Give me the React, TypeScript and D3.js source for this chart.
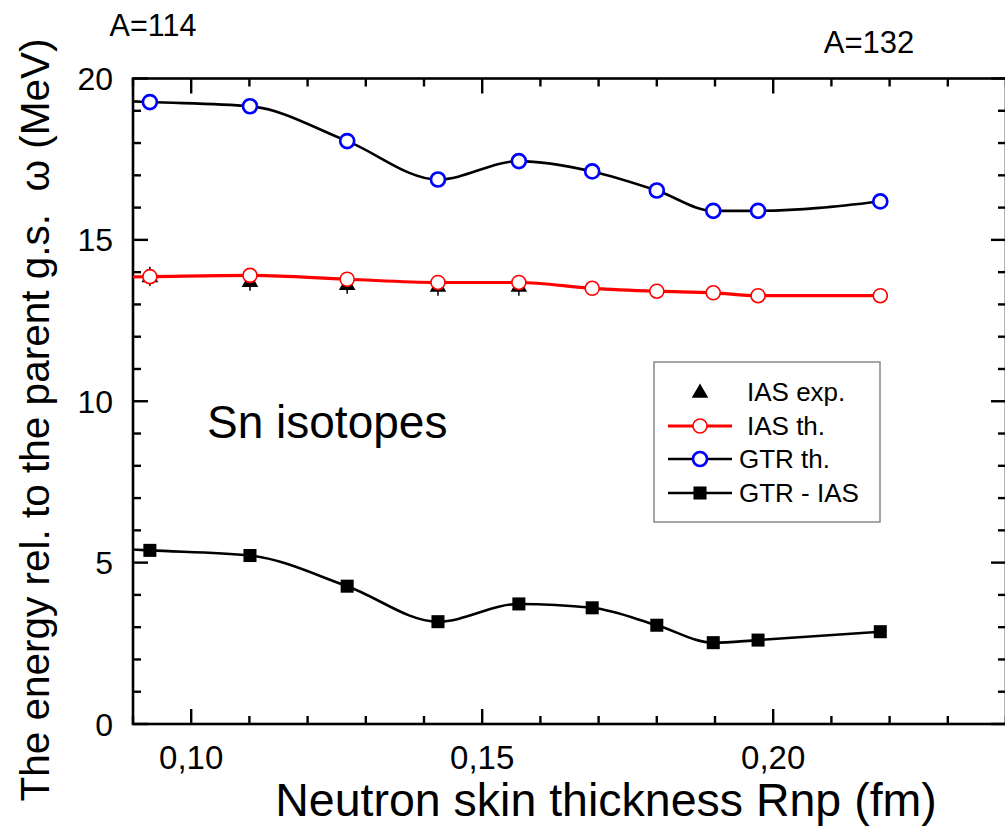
import React from "react";
import * as d3 from "d3";

// ---- data ----
const rnp = [0.0929, 0.1101, 0.1268, 0.1424, 0.1563, 0.1689, 0.18, 0.1897, 0.1974, 0.2184];
const gtrTh = [19.27, 19.14, 18.06, 16.87, 17.44, 17.12, 16.53, 15.9, 15.9, 16.19];
const iasTh = [13.86, 13.9, 13.78, 13.68, 13.68, 13.5, 13.41, 13.36, 13.27, 13.27];
const gtrMinusIas = [5.38, 5.22, 4.27, 3.17, 3.72, 3.6, 3.06, 2.52, 2.6, 2.86];
const rnpExp = [0.0929, 0.1101, 0.1268, 0.1424, 0.1563];
const iasExp = [13.87, 13.72, 13.63, 13.57, 13.57];
const iasExpErr = [0.3, 0.3, 0.3, 0.3, 0.3];
const xMajorTicks = [0.1, 0.15, 0.2];
const yMajorTicks = [0, 5, 10, 15, 20];
const legendLabels = ["IAS exp.", "IAS th.", "GTR th.", "GTR - IAS"];

const W = 1005;
const H = 830;
const M = { left: 133, right: 1006, top: 78.5, bottom: 724 };
const FONT = "'Liberation Sans', Arial, Helvetica, sans-serif";

const x = d3.scaleLinear().domain([0.09, 0.24]).range([M.left, M.right]);
const y = d3.scaleLinear().domain([0, 20]).range([M.bottom, M.top]);

function extend(xs: number[], ys: number[]): [number, number][] {
  // linear extrapolation of the first segment back to the left axis
  const t = x.domain()[0];
  const slope = (ys[1] - ys[0]) / (xs[1] - xs[0]);
  const yt = ys[0] + slope * (t - xs[0]);
  return [[t, yt], ...xs.map((v, i) => [v, ys[i]] as [number, number])];
}

const line = d3
  .line<[number, number]>()
  .x((d) => x(d[0]))
  .y((d) => y(d[1]))
  .curve(d3.curveMonotoneX);

const fmtX = (v: number) => d3.format(".2f")(v).replace(".", ",");

export default function App() {
  const xMinor = d3.range(0.09, 0.2401, 0.01);
  const yMinor = d3.range(0, 20.01, 1);
  const tri = d3.symbol().type(d3.symbolTriangle).size(120)();
  const sq = d3.symbol().type(d3.symbolSquare).size(170)();

  const legX = 654, legY = 362, legW = 226, legH = 160;
  const rowY = [392, 426, 459, 493];
  const sampleX0 = 668, sampleX1 = 732, sampleC = 700;
  const textX = [747, 747, 739, 739];

  return (
    <svg
      width={W}
      height={H}
      style={{ position: "absolute", left: 0, top: 0, background: "#fff" }}
      fontFamily={FONT}
    >
      <defs>
        <clipPath id="plot">
          <rect x={M.left} y={M.top} width={M.right - M.left} height={M.bottom - M.top} />
        </clipPath>
      </defs>
      <rect width={W} height={H} fill="#fff" />

      {/* frame */}
      <rect
        x={M.left}
        y={M.top}
        width={M.right - M.left}
        height={M.bottom - M.top}
        fill="none"
        stroke="#000"
        strokeWidth={2.6}
      />

      {/* x ticks (bottom & top) */}
      {xMinor.map((v, i) => {
        const major = xMajorTicks.some((m) => Math.abs(m - v) < 1e-6);
        const len = major ? 15 : 8;
        return (
          <g key={"xt" + i} stroke="#000" strokeWidth={2.4}>
            <line x1={x(v)} x2={x(v)} y1={M.bottom} y2={M.bottom - len} />
            <line x1={x(v)} x2={x(v)} y1={M.top} y2={M.top + len} />
          </g>
        );
      })}
      {/* y ticks (left & right) */}
      {yMinor.map((v, i) => {
        const major = yMajorTicks.includes(Math.round(v)) && Math.abs(v - Math.round(v)) < 1e-6;
        const len = major ? 15 : 8;
        return (
          <g key={"yt" + i} stroke="#000" strokeWidth={2.4}>
            <line x1={M.left} x2={M.left + len} y1={y(v)} y2={y(v)} />
            <line x1={M.right} x2={M.right - len} y1={y(v)} y2={y(v)} />
          </g>
        );
      })}

      {/* tick labels */}
      {xMajorTicks.map((v) => (
        <text key={"xl" + v} x={x(v)} y={769} fontSize={33} textAnchor="middle" fill="#000">
          {fmtX(v)}
        </text>
      ))}
      {yMajorTicks.map((v) => (
        <text key={"yl" + v} x={113} y={y(v) + 11.5} fontSize={32} textAnchor="end" fill="#000">
          {v}
        </text>
      ))}

      {/* axis titles */}
      <text x={606} y={816} fontSize={46.5} textAnchor="middle" fill="#000">
        Neutron skin thickness Rnp (fm)
      </text>
      <text
        transform={`translate(49, 420) rotate(-90)`}
        fontSize={40.5}
        textAnchor="middle"
        fill="#000"
      >
        The energy rel. to the parent g.s.{"\u00a0\u00a0"}ω (MeV)
      </text>

      {/* top annotations */}
      <text x={153} y={36} fontSize={30.5} textAnchor="middle" fill="#000">A=114</text>
      <text x={869} y={53} fontSize={31} textAnchor="middle" fill="#000">A=132</text>
      <text x={207} y={438} fontSize={46} fill="#000">Sn isotopes</text>

      <g clipPath="url(#plot)">
        {/* IAS exp triangles with error bars */}
        {rnpExp.map((v, i) => (
          <g key={"ex" + i}>
            <line
              x1={x(v)}
              x2={x(v)}
              y1={y(iasExp[i] - iasExpErr[i])}
              y2={y(iasExp[i] + iasExpErr[i])}
              stroke="#000"
              strokeWidth={1.5}
            />
            <path d={tri} transform={`translate(${x(v)},${y(iasExp[i]) + 1})`} fill="#000" />
          </g>
        ))}

        {/* GTR th. */}
        <path d={line(extend(rnp, gtrTh))!} fill="none" stroke="#000" strokeWidth={2.6} />
        {/* IAS th. */}
        <path d={line(extend(rnp, iasTh))!} fill="none" stroke="#ff0000" strokeWidth={3.2} />
        {/* GTR - IAS */}
        <path d={line(extend(rnp, gtrMinusIas))!} fill="none" stroke="#000" strokeWidth={2.6} />

        {rnp.map((v, i) => (
          <circle key={"ic" + i} cx={x(v)} cy={y(iasTh[i])} r={7} fill="#fff" stroke="#ff0000" strokeWidth={1.6} />
        ))}
        {rnp.map((v, i) => (
          <circle key={"gc" + i} cx={x(v)} cy={y(gtrTh[i])} r={7} fill="#fff" stroke="#0000ff" strokeWidth={2.7} />
        ))}
        {rnp.map((v, i) => (
          <path key={"sq" + i} d={sq} transform={`translate(${x(v)},${y(gtrMinusIas[i])})`} fill="#000" />
        ))}
      </g>

      {/* legend */}
      <rect x={legX} y={legY} width={legW} height={legH} fill="#fff" stroke="#777" strokeWidth={1.3} />
      <path d={tri} transform={`translate(${sampleC},${rowY[0] + 1})`} fill="#000" />
      <line x1={sampleX0} x2={sampleX1} y1={rowY[1]} y2={rowY[1]} stroke="#ff0000" strokeWidth={3.2} />
      <circle cx={sampleC} cy={rowY[1]} r={7} fill="#fff" stroke="#ff0000" strokeWidth={1.6} />
      <line x1={sampleX0} x2={sampleX1} y1={rowY[2]} y2={rowY[2]} stroke="#000" strokeWidth={2.6} />
      <circle cx={sampleC} cy={rowY[2]} r={7} fill="#fff" stroke="#0000ff" strokeWidth={2.7} />
      <line x1={sampleX0} x2={sampleX1} y1={rowY[3]} y2={rowY[3]} stroke="#000" strokeWidth={2.6} />
      <path d={sq} transform={`translate(${sampleC},${rowY[3]})`} fill="#000" />
      {legendLabels.map((t, i) => (
        <text key={t} x={textX[i]} y={rowY[i] + 9} fontSize={26} fill="#000">
          {t}
        </text>
      ))}
    </svg>
  );
}
